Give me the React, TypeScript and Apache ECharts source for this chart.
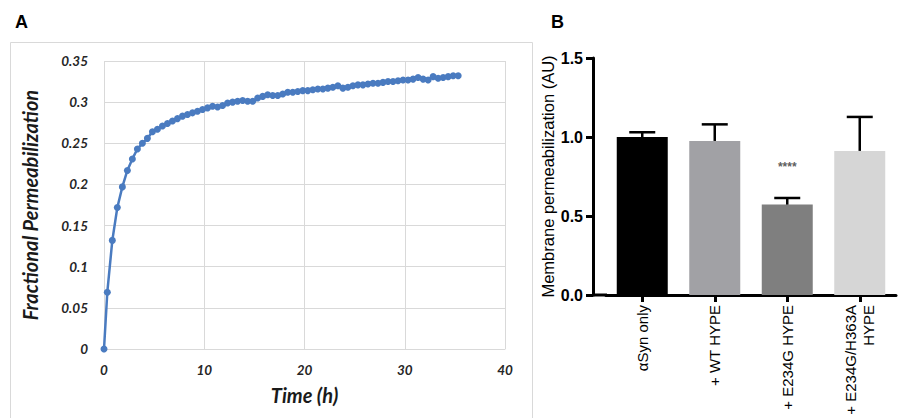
import React, { useEffect, useRef } from "react";
import * as echarts from "echarts";

// Panel A: fractional permeabilization over time
const timeHours = [
  0, 0.33, 0.83, 1.33, 1.83, 2.33, 2.83, 3.33, 3.83, 4.33, 4.83, 5.33, 5.83, 6.33, 6.83, 7.33,
  7.83, 8.33, 8.83, 9.33, 9.83, 10.33, 10.83, 11.33, 11.83, 12.33, 12.83, 13.33, 13.83, 14.33,
  14.83, 15.33, 15.83, 16.33, 16.83, 17.33, 17.83, 18.33, 18.83, 19.33, 19.83, 20.33, 20.83,
  21.33, 21.83, 22.33, 22.83, 23.33, 23.83, 24.33, 24.83, 25.33, 25.83, 26.33, 26.83, 27.33,
  27.83, 28.33, 28.83, 29.33, 29.83, 30.33, 30.83, 31.33, 31.83, 32.33, 32.83, 33.33, 33.83,
  34.33, 34.83, 35.33,
];
const fractionalPerm = [
  0, 0.069, 0.132, 0.172, 0.197, 0.217, 0.231, 0.243, 0.25, 0.256, 0.264, 0.267, 0.271, 0.274,
  0.277, 0.28, 0.283, 0.285, 0.287, 0.289, 0.291, 0.293, 0.295, 0.294, 0.296, 0.299, 0.3, 0.301,
  0.302, 0.301, 0.301, 0.305, 0.307, 0.309, 0.308, 0.308, 0.31, 0.312, 0.312, 0.313, 0.314,
  0.314, 0.315, 0.316, 0.316, 0.317, 0.318, 0.32, 0.317, 0.318, 0.32, 0.321, 0.321, 0.322,
  0.323, 0.323, 0.324, 0.325, 0.325, 0.326, 0.327, 0.327, 0.328, 0.33, 0.328, 0.327, 0.331,
  0.329, 0.33, 0.331, 0.332, 0.332,
];

// Panel B: membrane permeabilization bars
const conditions = ["αSyn only", "+ WT HYPE", "+ E234G HYPE", "+ E234G/H363A\nHYPE"];
const meanPerm = [1.0, 0.975, 0.572, 0.912];
const upperErr = [1.03, 1.08, 0.614, 1.127];
const barColors = ["#000000", "#a1a1a5", "#7f7f7f", "#d6d6d6"];
const sigLabel = "****";
const sigIndex = 2;
const sigValue = 0.81;

const fontA = "Lato, 'Open Sans', sans-serif";
const fontB = "'Liberation Sans', Arial, sans-serif";

export default function App() {
  const ref = useRef<HTMLDivElement>(null);
  useEffect(() => {
    if (!ref.current) return;
    const chart = echarts.init(ref.current, null, { renderer: "svg" });
    const labelA = {
      color: "#262626",
      fontFamily: fontA,
      fontStyle: "italic" as const,
      fontWeight: "bold" as const,
      fontSize: 13.5,
    };
    chart.setOption({
      animation: false,
      backgroundColor: "#ffffff",
      graphic: [
        {
          type: "rect",
          shape: { x: 10.5, y: 42.5, width: 522, height: 400 },
          style: { fill: "none", stroke: "#d9d9d9", lineWidth: 1 },
          silent: true,
        },
        {
          type: "text",
          left: 15,
          top: 13,
          style: { text: "A", font: "bold 18px 'Liberation Sans', Arial", fill: "#000" },
        },
        {
          type: "text",
          left: 551,
          top: 13,
          style: { text: "B", font: "bold 18px 'Liberation Sans', Arial", fill: "#000" },
        },
        {
          type: "line",
          shape: { x1: 592, y1: 295, x2: 607, y2: 295 },
          style: { stroke: "#000", lineWidth: 3 },
          silent: true,
        },
      ],
      grid: [
        { left: 104, top: 61, width: 401, height: 288 },
        { left: 606, top: 58, width: 290, height: 237 },
      ],
      xAxis: [
        {
          gridIndex: 0,
          type: "value",
          min: 0,
          max: 40,
          interval: 10,
          name: "Time (h)",
          nameLocation: "middle",
          nameGap: 36,
          nameTextStyle: { ...labelA, fontSize: 20, color: "#1a1a1a" },
          axisLine: { show: true, lineStyle: { color: "#d9d9d9", width: 1 } },
          axisTick: { show: false },
          axisLabel: { ...labelA, margin: 14 },
          splitLine: { show: true, lineStyle: { color: "#d9d9d9", width: 1 } },
        },
        {
          gridIndex: 1,
          type: "category",
          data: conditions,
          axisLine: { show: true, lineStyle: { color: "#000", width: 3 } },
          axisTick: { show: true, alignWithLabel: true, length: 7, lineStyle: { color: "#000", width: 3 } },
          axisLabel: {
            rotate: 90,
            color: "#000",
            fontFamily: fontB,
            fontSize: 15,
            margin: 10,
            lineHeight: 18,
            interval: 0,
          },
          splitLine: { show: false },
        },
      ],
      yAxis: [
        {
          gridIndex: 0,
          type: "value",
          min: 0,
          max: 0.35,
          interval: 0.05,
          name: "Fractional Permeabilization",
          nameLocation: "middle",
          nameGap: 64,
          nameTextStyle: { ...labelA, fontSize: 20, color: "#1a1a1a" },
          axisLine: { show: false },
          axisTick: { show: false },
          axisLabel: { ...labelA, margin: 16, formatter: (v: number) => String(Math.round(v * 100) / 100) },
          splitLine: { show: true, lineStyle: { color: "#d9d9d9", width: 1 } },
        },
        {
          gridIndex: 1,
          type: "value",
          min: 0,
          max: 1.5,
          interval: 0.5,
          offset: 13,
          name: "Membrane permeabilization (AU)",
          nameLocation: "middle",
          nameGap: 32,
          nameTextStyle: { color: "#000", fontFamily: fontB, fontSize: 16.5 },
          axisLine: { show: true, lineStyle: { color: "#000", width: 3 } },
          axisTick: { show: true, length: 7, lineStyle: { color: "#000", width: 3 } },
          axisLabel: {
            color: "#000",
            fontFamily: fontB,
            fontWeight: "bold",
            fontSize: 16,
            margin: 10,
            formatter: (v: number) => v.toFixed(1),
          },
          splitLine: { show: false },
        },
      ],
      series: [
        {
          type: "line",
          xAxisIndex: 0,
          yAxisIndex: 0,
          data: timeHours.map((t, i) => [t, fractionalPerm[i]]),
          symbol: "circle",
          symbolSize: 7,
          showSymbol: true,
          lineStyle: { color: "#4a7bc0", width: 2.5 },
          itemStyle: { color: "#4a7bc0" },
        },
        {
          type: "bar",
          xAxisIndex: 1,
          yAxisIndex: 1,
          barWidth: 51,
          data: meanPerm.map((v, i) => ({ value: v, itemStyle: { color: barColors[i] } })),
        },
        {
          type: "custom",
          xAxisIndex: 1,
          yAxisIndex: 1,
          data: meanPerm.map((v, i) => [i, v, upperErr[i]]),
          renderItem: (params: any, api: any) => {
            const i = api.value(0);
            const p0 = api.coord([i, api.value(1)]);
            const p1 = api.coord([i, api.value(2)]);
            const st = { stroke: "#000", lineWidth: 2.5 };
            return {
              type: "group",
              children: [
                { type: "line", shape: { x1: p0[0], y1: p0[1], x2: p1[0], y2: p1[1] }, style: st },
                { type: "line", shape: { x1: p1[0] - 13, y1: p1[1], x2: p1[0] + 13, y2: p1[1] }, style: st },
              ],
            };
          },
          z: 5,
        },
        {
          type: "scatter",
          xAxisIndex: 1,
          yAxisIndex: 1,
          symbolSize: 1,
          itemStyle: { color: "transparent" },
          data: [[sigIndex, sigValue]],
          label: {
            show: true,
            position: "inside",
            formatter: sigLabel,
            color: "#333",
            fontFamily: fontB,
            fontSize: 12,
            fontWeight: "bold",
          },
        },
      ],
    });
    return () => chart.dispose();
  }, []);
  return (
    <div
      ref={ref}
      style={{ position: "absolute", left: 0, top: 0, width: 898, height: 418, background: "#fff" }}
    />
  );
}
